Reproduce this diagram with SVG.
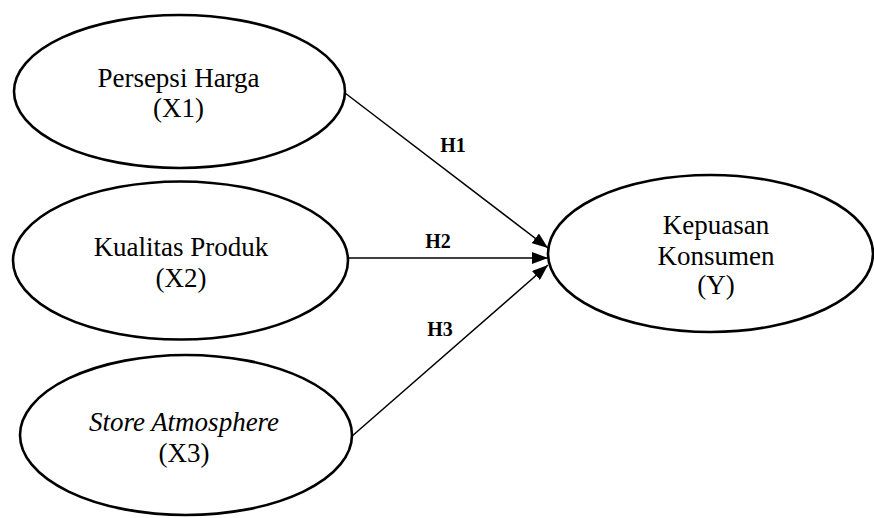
<svg xmlns="http://www.w3.org/2000/svg" width="874" height="518" viewBox="0 0 874 518">
<style>
.node ellipse{fill:#fff;stroke:#000;stroke-width:2.6}
.t{font-family:"Liberation Serif","Times New Roman",serif;font-size:27px;fill:#000;text-anchor:middle}
.i{font-style:italic}
.lbl{font-family:"Liberation Serif","Times New Roman",serif;font-size:20px;font-weight:bold;fill:#000;text-anchor:middle}
.edge{stroke:#000;stroke-width:1.5;fill:none;marker-end:url(#ah)}
</style>
<defs>
<marker id="ah" markerUnits="userSpaceOnUse" markerWidth="17" markerHeight="12" refX="16" refY="6" orient="auto">
<path d="M0,0 L16,6 L0,12 Z" fill="#000"/>
</marker>
</defs>
<rect width="874" height="518" fill="#fff"/>
<g id="connectors">
<line class="edge" x1="345" y1="93" x2="548" y2="248"/>
<line class="edge" x1="348" y1="258" x2="548" y2="258"/>
<line class="edge" x1="351" y1="437" x2="548" y2="265"/>
<text class="lbl" x="453" y="152">H1</text>
<text class="lbl" x="438" y="248">H2</text>
<text class="lbl" x="440" y="336">H3</text>
</g>
<g id="x1" class="node">
<ellipse cx="179.5" cy="91.5" rx="165.5" ry="76.5"/>
<text class="t" x="178.5" y="87">Persepsi Harga</text>
<text class="t" x="178.5" y="117">(X1)</text>
</g>
<g id="x2" class="node">
<ellipse cx="180.5" cy="260.5" rx="167.5" ry="79"/>
<text class="t" x="181" y="256">Kualitas Produk</text>
<text class="t" x="181" y="287">(X2)</text>
</g>
<g id="x3" class="node">
<ellipse cx="186" cy="435" rx="166" ry="80"/>
<text class="t i" x="184" y="431">Store Atmosphere</text>
<text class="t" x="184" y="462">(X3)</text>
</g>
<g id="y" class="node">
<ellipse cx="710.5" cy="253.5" rx="162.5" ry="78.5"/>
<text class="t" x="716" y="234">Kepuasan</text>
<text class="t" x="716" y="265">Konsumen</text>
<text class="t" x="716" y="294">(Y)</text>
</g>
</svg>
